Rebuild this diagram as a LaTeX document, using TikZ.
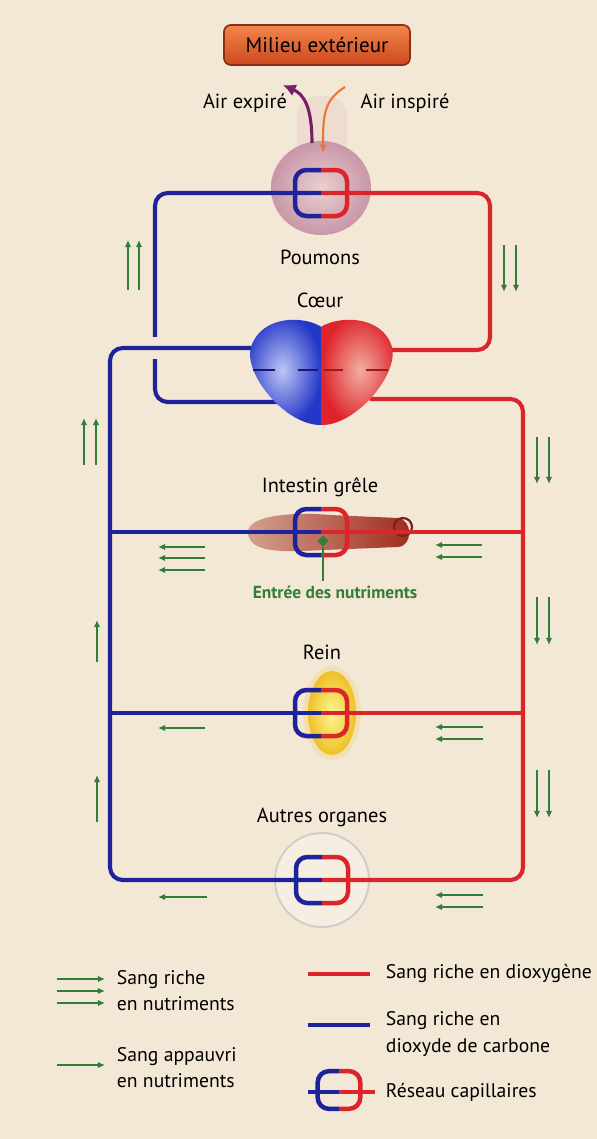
\documentclass[tikz,border=0pt]{standalone}
\usepackage{fontspec}
\setmainfont{PT Sans}
\usepackage{xcolor}
\usepackage{tikz}
\usetikzlibrary{arrows.meta,positioning,calc,shapes.geometric}

\definecolor{fond}{RGB}{243,231,213}
\definecolor{sangbleu}{RGB}{30,35,155}
\definecolor{sangrouge}{RGB}{218,38,42}
\definecolor{vertfleche}{RGB}{50,125,55}
\definecolor{poumonclair}{RGB}{234,208,208}
\definecolor{poumonfonce}{RGB}{200,150,168}
\definecolor{bleuclair}{RGB}{190,198,245}
\definecolor{bleufonce}{RGB}{35,55,200}
\definecolor{rougeclair}{RGB}{242,175,162}
\definecolor{rougefonce}{RGB}{222,35,42}
\definecolor{intclair}{RGB}{212,160,140}
\definecolor{intfonce}{RGB}{158,42,30}
\definecolor{reinclair}{RGB}{255,246,150}
\definecolor{reinfonce}{RGB}{238,192,35}
\definecolor{milieuhaut}{RGB}{242,135,75}
\definecolor{milieubas}{RGB}{205,72,30}
\definecolor{milieubord}{RGB}{140,45,25}
\definecolor{expirecol}{RGB}{120,30,100}
\definecolor{inspirecol}{RGB}{232,120,50}

\tikzset{
  vaisseau/.style={line width=2.9pt, rounded corners=9pt},
  bleu/.style={vaisseau, draw=sangbleu},
  rouge/.style={vaisseau, draw=sangrouge},
  flux/.style={vertfleche, line width=1.1pt, -{Latex[length=5pt,width=4.5pt]}},
  milieu/.style={draw=milieubord, line width=1.2pt, rounded corners=5pt, top color=milieuhaut, bottom color=milieubas,
    minimum width=4.65cm, minimum height=1.0cm, font=\fontsize{15}{17}\selectfont},
  legende/.style={anchor=west, align=left, font=\fontsize{14}{18.5}\selectfont},
  pics/reseau/.style={code={
    \draw[sangbleu, line width=3.2pt, rounded corners=8pt] (0,-23) -- (-26,-23) -- (-26,23) -- (0,23);
    \draw[sangrouge, line width=3.2pt, rounded corners=8pt] (0,-23) -- (26,-23) -- (26,23) -- (0,23);
  }},
}

\begin{document}
\begin{tikzpicture}[x=0.025cm, y=-0.025cm, every node/.style={font=\fontsize{14.5}{17}\selectfont, text=black}]
\useasboundingbox (0,0) rectangle (597,1139);
\fill[fond] (0,0) rectangle (597,1139);

% organes
\coordinate (poumons) at (321,193);
\coordinate (intestin) at (321,532);
\coordinate (rein) at (321,713);
\coordinate (autres) at (322,880);
\fill[poumonfonce, opacity=0.13, rounded corners=14pt] (297,96) rectangle (347,165);
\shade[inner color=poumonclair, outer color=poumonfonce] (321,188) ellipse[x radius=50, y radius=47];
\shade[left color=intclair, right color=intfonce] (248,532) .. controls (248,514) and (300,512) .. (330,515)
  -- (398,518) .. controls (413,520) and (413,546) .. (398,547) -- (300,551) .. controls (268,552) and (248,548) .. (248,532) -- cycle;
\draw[intfonce!80!black, line width=1.6pt] (403,527) circle[radius=9];
\fill[reinfonce, opacity=0.18] (332,713) ellipse[x radius=29, y radius=47];
\shade[inner color=reinclair, outer color=reinfonce] (332,713) ellipse[x radius=24, y radius=42];
\fill[white, opacity=0.3] (322,880) circle[radius=47];
\draw[black!20, line width=1.3pt] (322,880) circle[radius=47];

% circulation pulmonaire
\coordinate (coeurGb) at (280,402);
\coordinate (coeurD) at (372,350);
\draw[bleu] (coeurGb) -- (155,402) -- (155,193) -- (poumons);
\draw[rouge] (poumons) -- (490,193) -- (490,350) -- (coeurD);
\draw[fond, line width=15pt] (142,348) -- (168,348);

% circulation generale
\coordinate (coeurG) at (268,348);
\coordinate (coeurDb) at (370,399);
\draw[bleu] (coeurG) -- (110,348) -- (110,880) -- (autres);
\draw[rouge] (coeurDb) -- (523,399) -- (523,880) -- (autres);
\draw[bleu] (110,532) -- (intestin);
\draw[rouge] (intestin) -- (523,532);
\draw[bleu] (110,713) -- (rein);
\draw[rouge] (rein) -- (523,713);
\foreach \o in {poumons, intestin, rein, autres}
  \pic at (\o) {reseau};

% coeur
\shade[inner color=bleuclair, outer color=bleufonce] (321.5,327) .. controls (305,316) and (262,314) .. (251,347)
  .. controls (243,374) and (286,426) .. (321.5,425) -- cycle;
\shade[inner color=rougeclair, outer color=rougefonce] (321,327) .. controls (337,316) and (382,314) .. (392,347)
  .. controls (399,374) and (356,426) .. (321,425) -- cycle;
\foreach \xa/\xb/\clr in {253/275/sangbleu!70!black, 298/318/sangbleu!70!black, 324/343/sangrouge!70!black, 366/388/sangrouge!70!black}
  \draw[\clr, line width=1.6pt] (\xa,370) -- (\xb,370);

% air
\node[milieu] (milieu) at (317,45) {Milieu extérieur};
\node (expire) at (245,103) {Air expiré};
\node (inspire) at (405,103) {Air inspiré};
\coordinate (expdep) at (312,143);
\coordinate (expfin) at (283,85);
\coordinate (insdep) at (345,87);
\coordinate (insfin) at (323,153);
\draw[expirecol, line width=2.2pt, -{Latex[length=9pt,width=9pt]}] (expdep) .. controls (312,105) and (303,94) .. (expfin);
\draw[inspirecol, line width=1.5pt, -{Latex[length=6pt,width=5pt]}] (insdep) .. controls (324,100) and (323,115) .. (insfin);

% etiquettes
\node (lpoumons) at (320,257) {Poumons};
\node (lcoeur) at (320,300) {Cœur};
\node (lintestin) at (320,487) {Intestin grêle};
\node (lrein) at (322,652) {Rein};
\node (lautres) at (322,817) {Autres organes};
\node[fill=vertfleche, diamond, inner sep=0pt, minimum size=8pt] (entree) at (323,541) {};
\node[text=vertfleche, font=\bfseries\fontsize{12.4}{14}\selectfont] (lentree) at (335,592) {Entrée des nutriments};
\draw[vertfleche, line width=1.5pt] (entree) -- (lentree.north -| entree);

% sens du sang
\foreach \xa/\ya/\xb/\yb in {128/290/128/240, 139/290/139/240, 84/465/84/418, 96/465/96/418, 97/662/97/620, 97/822/97/775,
  504/245/504/292, 516/245/516/292, 537/437/537/484, 549/437/549/484, 537/597/537/645, 549/597/549/645, 537/770/537/818, 549/770/549/818,
  205/547/158/547, 205/558/158/558, 205/570/158/570, 482/545/435/545, 482/557/435/557,
  205/728/158/728, 483/727/435/727, 483/739/435/739,
  207/897/158/897, 483/895/435/895, 483/907/435/907}
  \draw[flux] (\xa,\ya) -- (\xb,\yb);

% legende
\foreach \y in {979, 991, 1003, 1065}
  \draw[flux] (57,\y) -- (105,\y);
\node[legende] (lriche) at (112,991) {Sang riche\\en nutriments};
\node[legende] (lappauvri) at (112,1068) {Sang appauvri\\en nutriments};
\draw[sangrouge, line width=2.9pt] (308,974) -- (370,974);
\draw[sangbleu, line width=2.9pt] (308,1025) -- (370,1025);
\draw[sangbleu, line width=2.9pt] (308,1092) -- (339,1092);
\draw[sangrouge, line width=2.9pt] (339,1092) -- (375,1092);
\pic[scale=0.82] at (339,1090) {reseau};
\node[legende] (ldioxy) at (381,973) {Sang riche en dioxygène};
\node[legende] (lcarbone) at (381,1034) {Sang riche en\\dioxyde de carbone};
\node[legende] (lreseau) at (381,1092) {Réseau capillaires};
\end{tikzpicture}
\end{document}
